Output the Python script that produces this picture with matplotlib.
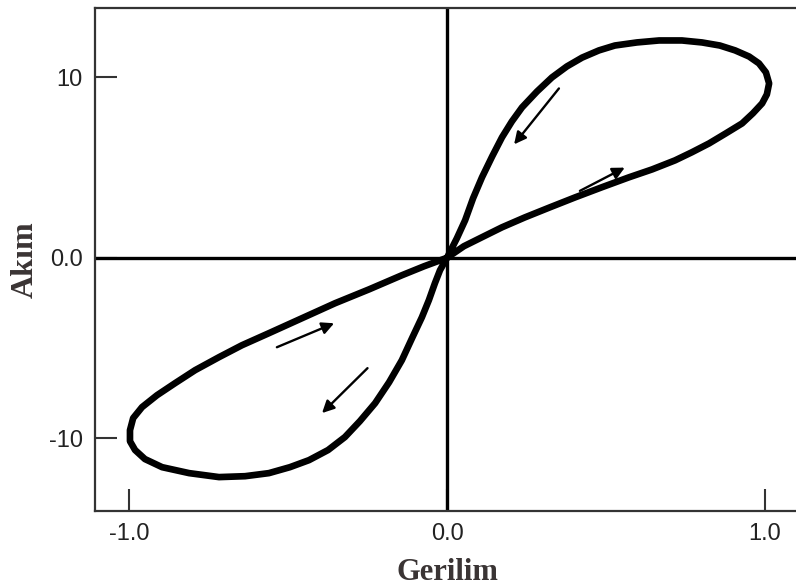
import matplotlib
matplotlib.use("Agg")
import matplotlib.pyplot as plt

# positive lobe, traced from the origin up the steep branch and back
upper_v = [0.0, 0.031, 0.057, 0.082, 0.110, 0.142, 0.173, 0.204, 0.236, 0.283, 0.330,
           0.377, 0.425, 0.478, 0.528, 0.597, 0.667, 0.739, 0.802, 0.858, 0.906,
           0.950, 0.981, 1.003, 1.013, 1.006, 0.991, 0.962, 0.928, 0.877, 0.824,
           0.770, 0.717, 0.645, 0.572, 0.487, 0.403, 0.324, 0.245, 0.173, 0.110,
           0.053, 0.0]
upper_i = [0.0, 1.08, 2.08, 3.30, 4.46, 5.62, 6.68, 7.56, 8.34, 9.22, 10.0,
           10.61, 11.1, 11.5, 11.77, 11.94, 12.05, 12.05, 11.94, 11.77, 11.5,
           11.16, 10.78, 10.28, 9.67, 9.06, 8.56, 8.01, 7.45, 6.90, 6.34,
           5.85, 5.40, 4.90, 4.46, 3.91, 3.35, 2.80, 2.24, 1.69, 1.14,
           0.64, 0.0]

# negative lobe
lower_v = [0.0, -0.072, -0.142, -0.245, -0.352, -0.456, -0.560, -0.645, -0.717, -0.792,
           -0.855, -0.912, -0.959, -0.987, -0.997, -0.997, -0.981, -0.950, -0.896,
           -0.811, -0.717, -0.635, -0.560, -0.494, -0.434, -0.374, -0.321, -0.274,
           -0.226, -0.182, -0.142, -0.110, -0.079, -0.057, -0.038, -0.022, 0.0]
lower_i = [0.0, -0.47, -0.97, -1.75, -2.52, -3.35, -4.18, -4.85, -5.51, -6.23,
           -6.95, -7.62, -8.28, -8.89, -9.56, -10.17, -10.66, -11.16, -11.61,
           -11.94, -12.16, -12.11, -11.94, -11.61, -11.22, -10.66, -9.94, -9.06,
           -8.06, -6.90, -5.68, -4.46, -3.30, -2.35, -1.41, -0.69, 0.0]

# direction arrows: (tail_v, tail_i, head_v, head_i)
arrows = [
    (0.352, 9.39, 0.211, 6.29),
    (0.418, 3.71, 0.559, 5.00),
    (-0.535, -4.96, -0.355, -3.63),
    (-0.25, -6.12, -0.393, -8.61),
]

x_ticks = [-1.0, 0.0, 1.0]
x_labels = ["-1.0", "0.0", "1.0"]
y_ticks = [-10, 0, 10]
y_labels = ["-10", "0.0", "10"]

fig = plt.figure(figsize=(7.96, 5.88), dpi=100)
ax = fig.add_axes([95 / 796, 1 - 511 / 588, 704 / 796, 503 / 588])
ax.set_xlim(-1.107, 1.107)
ax.set_ylim(-14.04, 13.85)

ax.axhline(0, color="black", lw=2.4, zorder=2)
ax.axvline(0, color="black", lw=2.4, zorder=2)

for v, i in [(upper_v, upper_i), (lower_v, lower_i)]:
    ax.plot(v, i, color="black", lw=4.8, solid_joinstyle="round",
            solid_capstyle="round", zorder=3)

for tv, ti, hv, hi in arrows:
    ax.annotate("", xy=(hv, hi), xytext=(tv, ti),
                arrowprops=dict(arrowstyle="-|>", color="black", lw=1.7,
                                mutation_scale=18, shrinkA=0, shrinkB=0))

for side in ["left", "bottom", "top"]:
    ax.spines[side].set_color("#333333")
    ax.spines[side].set_linewidth(1.6)
ax.spines["right"].set_visible(False)

ax.set_xticks(x_ticks)
ax.set_xticklabels(x_labels)
ax.set_yticks(y_ticks)
ax.set_yticklabels(y_labels)
ax.tick_params(direction="in", length=16, width=1.5, color="#333333",
               labelsize=17, labelcolor="#222222", pad=9)
for lab in ax.get_xticklabels() + ax.get_yticklabels():
    lab.set_family(["Liberation Sans", "DejaVu Sans"])

ax.set_xlabel("Gerilim", family="Liberation Serif", fontweight="bold",
              fontsize=22, color="#3a3434", labelpad=9)
ax.set_ylabel("Akım", family="Liberation Serif", fontweight="bold",
              fontsize=23, color="#3a3434", labelpad=6)

fig.savefig("out.png", dpi=100)
